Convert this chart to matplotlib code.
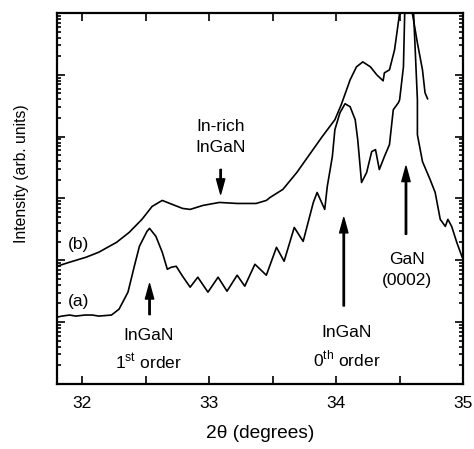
import matplotlib
matplotlib.use('Agg')
import matplotlib.pyplot as plt
from matplotlib.ticker import LogLocator, NullFormatter

plt.rcParams['font.family'] = ['Liberation Sans', 'DejaVu Sans']
plt.rcParams['mathtext.fontset'] = 'custom'
plt.rcParams['mathtext.rm'] = 'Liberation Sans'

# curve (b): sample with In-rich InGaN
b_theta = [31.80, 31.90, 32.03, 32.13, 32.27, 32.37, 32.47, 32.55, 32.63, 32.71,
           32.79, 32.85, 32.95, 33.08, 33.22, 33.37, 33.45, 33.48, 33.58, 33.69,
           33.79, 33.89, 33.99, 34.04, 34.11, 34.16, 34.21, 34.27, 34.32, 34.37,
           34.38, 34.42, 34.46, 34.50, 34.55, 34.60, 34.64, 34.68, 34.70, 34.72]
b_int = [80, 93, 112, 135, 195, 283, 459, 743, 929, 800,
         690, 665, 771, 862, 830, 830, 929, 1040, 1400, 2630,
         5130, 10000, 18800, 32800, 83000, 134600, 162000, 134600, 100000, 80000,
         107700, 120500, 253000, 1.0e6, 1.0e7, 1.0e6, 328000, 120500, 51300, 41000]

# curve (a)
a_theta = [31.80, 31.84, 31.90, 31.95, 32.02, 32.08, 32.13, 32.23, 32.29, 32.36,
           32.41, 32.45, 32.51, 32.53, 32.58, 32.63, 32.67, 32.70, 32.74, 32.79,
           32.85, 32.91, 32.99, 33.07, 33.14, 33.22, 33.28, 33.36, 33.45, 33.53,
           33.59, 33.67, 33.74, 33.82, 33.85, 33.91, 33.93, 33.97, 33.99, 34.03,
           34.07, 34.11, 34.15, 34.17, 34.20, 34.24, 34.28, 34.31, 34.34, 34.38,
           34.42, 34.45, 34.49, 34.50, 34.53, 34.54, 34.57, 34.61, 34.64, 34.64,
           34.68, 34.74, 34.78, 34.82, 34.86, 34.88, 34.91, 34.95, 34.99, 35.02]
a_int = [12.0, 12.5, 13.0, 12.5, 13.0, 13.0, 12.5, 13.0, 16.2, 30.5,
         80, 168, 294, 328, 244, 135, 71.6, 77, 80, 55.2,
         36.7, 53.2, 30.5, 53.2, 31.6, 57.3, 38.1, 86.2, 57.3, 162,
         96.4, 340, 202, 861, 1250, 665, 1562, 4757, 12970, 24380,
         34050, 30470, 18800, 8950, 1811, 2626, 5728, 6170, 2937, 4757,
         7430, 27240, 35330, 39530, 134600, 1.0e6, 1.0e7, 1.0e6, 39530, 10770,
         3953, 2025, 1250, 459, 353, 459, 353, 195, 116, 86]

fig = plt.figure(figsize=(4.74, 4.49), dpi=100)
ax = fig.add_axes([0.120, 0.145, 0.857, 0.826])

ax.plot(b_theta, b_int, color='black', lw=1.2)
ax.plot(a_theta, a_int, color='black', lw=1.2)

ax.set_yscale('log')
ax.set_xlim(31.8, 35)
ax.set_ylim(1, 1e6)

ax.set_xticks([32, 32.5, 33, 33.5, 34, 34.5, 35])
ax.set_xticklabels(['32', '', '33', '', '34', '', '35'])
ax.yaxis.set_major_locator(LogLocator(base=10, numticks=10))
ax.yaxis.set_minor_locator(LogLocator(base=10, subs=range(2, 10), numticks=10))
ax.yaxis.set_major_formatter(NullFormatter())
ax.yaxis.set_minor_formatter(NullFormatter())
ax.tick_params(which='both', direction='in', top=True, right=True, width=1.2)
ax.tick_params(which='major', length=6, labelsize=12.5, pad=9)
ax.tick_params(which='minor', length=3)
for s in ax.spines.values():
    s.set_linewidth(1.6)

ax.set_xlabel('2θ (degrees)', fontsize=13.8, labelpad=10)
ax.set_ylabel('Intensity (arb. units)', fontsize=11.3)
ax.yaxis.set_label_coords(-0.068, 0.566)

fs = 12.5
ls = 1.5
arrow = dict(facecolor='black', edgecolor='black', width=1.0, headwidth=6, headlength=11, shrink=0)

# In-rich InGaN
ax.annotate('', xy=(33.09, 10**3.07), xytext=(33.09, 10**3.47), arrowprops=arrow)
ax.text(33.09, 10**4.0, 'In-rich\nInGaN', ha='center', va='center', fontsize=fs, linespacing=ls)

# InGaN 1st order
ax.annotate('', xy=(32.53, 10**1.62), xytext=(32.53, 10**1.12), arrowprops=arrow)
ax.text(32.52, 10**0.55, 'InGaN\n1$^{\\rm st}$ order', ha='center', va='center', fontsize=fs, linespacing=ls)

# InGaN 0th order
ax.annotate('', xy=(34.06, 10**2.69), xytext=(34.06, 10**1.26), arrowprops=arrow)
ax.text(34.08, 10**0.60, 'InGaN\n0$^{\\rm th}$ order', ha='center', va='center', fontsize=fs, linespacing=ls)

# GaN (0002)
ax.annotate('', xy=(34.55, 10**3.52), xytext=(34.55, 10**2.42), arrowprops=arrow)
ax.text(34.56, 10**1.84, 'GaN\n(0002)', ha='center', va='center', fontsize=fs, linespacing=ls)

ax.text(31.97, 10**2.25, '(b)', ha='center', va='center', fontsize=fs)
ax.text(31.97, 10**1.33, '(a)', ha='center', va='center', fontsize=fs)

fig.savefig('out.png', dpi=100)
